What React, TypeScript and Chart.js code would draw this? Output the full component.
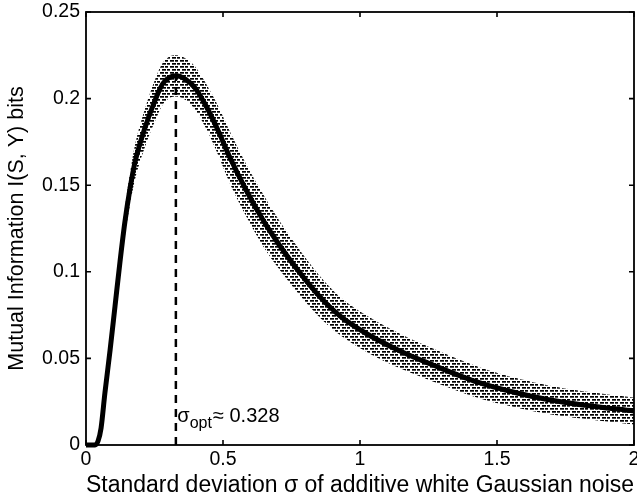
import React, { useEffect, useRef } from 'react';
import { Chart, registerables } from 'chart.js';

Chart.register(...registerables);

// Standard deviation of noise (x)
const sigma = [0, 0.02, 0.033, 0.044, 0.055, 0.069, 0.088, 0.106, 0.124, 0.142, 0.161, 0.179, 0.215, 0.252, 0.281, 0.328, 0.365, 0.398, 0.442, 0.478, 0.526, 0.588, 0.646, 0.708, 0.781, 0.854, 0.927, 1.026, 1.146, 1.266, 1.438, 1.573, 1.693, 1.814, 2.0];
// Mutual information I(S,Y) in bits (mean curve)
const mutualInfo = [0, 0, 0, 0.0023, 0.0098, 0.03, 0.0549, 0.0803, 0.1057, 0.1288, 0.1484, 0.1634, 0.183, 0.199, 0.2088, 0.2132, 0.211, 0.2061, 0.1946, 0.183, 0.1657, 0.1461, 0.1299, 0.1149, 0.0993, 0.0855, 0.0745, 0.0641, 0.0543, 0.0462, 0.0358, 0.03, 0.026, 0.0231, 0.0196];
// Error bar half-widths
const errHalf = [0, 0, 0, 0, 0.001, 0.002, 0.003, 0.004, 0.006, 0.008, 0.009, 0.01, 0.011, 0.012, 0.012, 0.012, 0.012, 0.0125, 0.013, 0.014, 0.015, 0.015, 0.015, 0.014, 0.013, 0.012, 0.011, 0.0105, 0.01, 0.0095, 0.009, 0.0085, 0.0082, 0.008, 0.0078];

const sigmaOpt = 0.328;
const peakMI = 0.2132;
const annotationY = 0.0133;

const FONT = '"Liberation Sans", Arial, Helvetica, sans-serif';

const fmt = (v: any) => String(Number(Number(v).toFixed(4)));

export default function App() {
  const ref = useRef<HTMLCanvasElement>(null);

  useEffect(() => {
    document.body.style.margin = '0';
    const canvas = ref.current!;
    const ctx = canvas.getContext('2d')!;

    const tile = document.createElement('canvas');
    tile.width = 10;
    tile.height = 6;
    const tctx = tile.getContext('2d')!;
    tctx.fillStyle = '#000';
    tctx.fillRect(0, 0, 4, 1.7);
    tctx.fillRect(5, 0, 3, 1.7);
    tctx.fillRect(2, 3, 4, 1.7);
    tctx.fillRect(7, 3, 3, 1.7);
    const pattern = ctx.createPattern(tile, 'repeat')!;

    const meanPts = sigma.map((x, i) => ({ x, y: mutualInfo[i] }));
    const upperPts = sigma.map((x, i) => ({ x, y: mutualInfo[i] + errHalf[i] }));
    const lowerPts = sigma.map((x, i) => ({ x, y: mutualInfo[i] - errHalf[i] }));

    const framePlugin = {
      id: 'frameTicks',
      afterDraw(chart: any) {
        const c = chart.ctx;
        const xs = chart.scales.x;
        const ys = chart.scales.y;
        const { left, right, top, bottom } = chart.chartArea;
        c.save();
        c.strokeStyle = '#000';
        c.lineWidth = 1.6;
        c.beginPath();
        const tl = 5;
        xs.ticks.forEach((t: any) => {
          const p = xs.getPixelForValue(t.value);
          c.moveTo(p, bottom);
          c.lineTo(p, bottom - tl);
          c.moveTo(p, top);
          c.lineTo(p, top + tl);
        });
        ys.ticks.forEach((t: any) => {
          const p = ys.getPixelForValue(t.value);
          c.moveTo(left, p);
          c.lineTo(left + tl, p);
          c.moveTo(right, p);
          c.lineTo(right - tl, p);
        });
        c.stroke();
        c.lineWidth = 1.8;
        c.strokeRect(left, top, right - left, bottom - top);

        // annotation
        const px = xs.getPixelForValue(sigmaOpt) + 1.5;
        const py = ys.getPixelForValue(annotationY);
        c.fillStyle = '#000';
        c.textBaseline = 'alphabetic';
        c.textAlign = 'left';
        c.font = `20px ${FONT}`;
        c.fillText('σ', px, py);
        let x = px + c.measureText('σ').width;
        c.font = `16px ${FONT}`;
        c.fillText('opt', x, py + 6);
        x += c.measureText('opt').width + 1;
        c.font = `20px ${FONT}`;
        c.fillText('≈ 0.328', x, py);
        c.restore();
      },
    };

    const chart = new Chart(ctx, {
      type: 'line',
      data: {
        datasets: [
          {
            label: 'mean',
            data: meanPts,
            borderColor: '#000',
            borderWidth: 5,
            pointRadius: 0,
            cubicInterpolationMode: 'monotone',
            fill: false,
            clip: false as any,
            order: 0,
          },
          {
            label: 'optimum',
            data: [
              { x: sigmaOpt, y: 0 },
              { x: sigmaOpt, y: peakMI },
            ],
            borderColor: '#000',
            borderWidth: 2.5,
            borderDash: [8, 6],
            pointRadius: 0,
            fill: false,
            order: 1,
          },
          {
            label: 'upper',
            data: upperPts,
            borderWidth: 0,
            borderColor: 'rgba(0,0,0,0)',
            backgroundColor: pattern,
            pointRadius: 0,
            cubicInterpolationMode: 'monotone',
            fill: '+1',
            order: 2,
          },
          {
            label: 'lower',
            data: lowerPts,
            borderWidth: 0,
            borderColor: 'rgba(0,0,0,0)',
            pointRadius: 0,
            cubicInterpolationMode: 'monotone',
            fill: false,
            order: 3,
          },
        ],
      },
      options: {
        animation: false,
        responsive: false,
        devicePixelRatio: 1,
        layout: { padding: { top: 12, right: 3, left: 0, bottom: 0 } },
        plugins: { legend: { display: false }, tooltip: { enabled: false } },
        scales: {
          x: {
            type: 'linear',
            min: 0,
            max: 2,
            ticks: { stepSize: 0.5, color: '#000', font: { family: FONT, size: 19.5 }, padding: 3, maxRotation: 0, callback: fmt },
            grid: { display: false, drawTicks: false },
            border: { display: false },
            title: {
              display: true,
              text: 'Standard deviation σ of additive white Gaussian noise',
              color: '#000',
              font: { family: FONT, size: 23.3 },
              padding: { top: 0, bottom: 3 },
            },
            afterFit: (s: any) => {
              s.height = 58;
              s.paddingLeft = 0;
              s.paddingRight = 0;
            },
          },
          y: {
            type: 'linear',
            min: 0,
            max: 0.25,
            ticks: { stepSize: 0.05, color: '#000', font: { family: FONT, size: 19.5 }, padding: 6, callback: fmt },
            grid: { display: false, drawTicks: false },
            border: { display: false },
            title: {
              display: true,
              text: 'Mutual Information I(S, Y) bits',
              color: '#000',
              font: { family: FONT, size: 21.5 },
              padding: { top: 4, bottom: 0 },
            },
            afterFit: (s: any) => {
              s.width = 86;
              s.paddingTop = 0;
              s.paddingBottom = 0;
            },
          },
        },
      },
      plugins: [framePlugin],
    } as any);

    return () => chart.destroy();
  }, []);

  return <canvas ref={ref} width={637} height={503} style={{ display: 'block' }} />;
}
